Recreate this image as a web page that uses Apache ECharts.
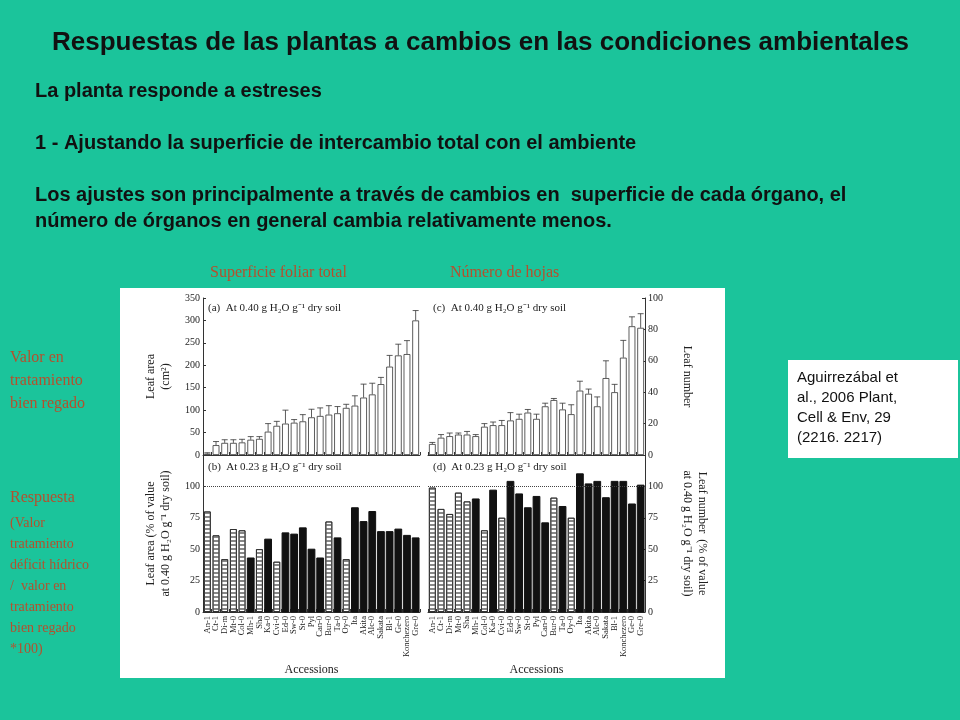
<!DOCTYPE html><html><head><meta charset="utf-8"><script src="https://cdn.jsdelivr.net/npm/echarts@6/dist/echarts.min.js"></script>
<style>body{margin:0;background:#1bc49b}#c{width:960px;height:720px}</style></head><body><div id="c"></div><script>
const catsAB=['An-1','Ct-1','Di-m','Mt-0','Col-0','Mh-1','Sha','Ka-0','Cvi-0','Ed-0','Sw-0','St-0','Pyl','Can-0','Bur-0','Ta-0','Oy-0','Ita','Akita','Alc-0','Sakata','Bl-1','Ge-0','Konchezero','Gre-0'];
const catsCD=['An-1','Ct-1','Di-m','Mt-0','Sha','Mh-1','Col-0','Ka-0','Cvi-0','Ed-0','Sw-0','St-0','Pyl','Can-0','Bur-0','Ta-0','Oy-0','Ita','Akita','Alc-0','Sakata','Bl-1','Konchezero','Ge-0','Gre-0'];
const leafArea=[3,22,27,27,28,34,36,52,65,70,72,75,84,87,90,93,105,110,128,135,158,197,222,225,300];
const leafAreaErr=[2,8,7,7,7,7,5,18,10,30,7,15,18,18,20,15,8,22,30,25,15,25,25,30,22];
const leafAreaPct=[80,61,42,66,65,43,50,58,40,63,62,67,50,43,72,59,42,83,72,80,64,64,66,61,59];
const leafNum=[7,11,12,13,13,12,18,19,19,22,23,27,23,31,35,29,26,41,39,31,49,40,62,82,81];
const leafNumErr=[1,2,2,1,2,1,2,2,3,5,3,2,3,2,1,4,6,6,3,6,11,5,11,6,9];
const leafNumPct=[99,82,78,95,88,90,65,97,75,104,94,83,92,71,91,84,75,110,102,104,91,104,104,86,101];
const hatched=['An-1','Ct-1','Di-m','Mt-0','Col-0','Sha','Cvi-0','Bur-0','Oy-0'];
const serif='Liberation Serif';
const decal={symbol:'rect',dashArrayX:[1,0],dashArrayY:[1.5,1.5],rotation:0,color:'#888',symbolSize:1};
function pctData(vals,cats){return vals.map((v,i)=>hatched.includes(cats[i])?{value:v,itemStyle:{color:'#fff',borderColor:'#222',borderWidth:0.8,decal:decal}}:{value:v,itemStyle:{color:'#111',borderColor:'#111'}});}
function errSeries(x,y,vals,errs){return {type:'custom',xAxisIndex:x,yAxisIndex:y,z:5,data:vals.map((v,i)=>[i,v,errs[i]]),renderItem:(p,api)=>{const i=api.value(0),v=api.value(1),e=api.value(2);const a=api.coord([i,v]),b=api.coord([i,v+e]);const w=3;return {type:'group',children:[{type:'line',shape:{x1:a[0],y1:a[1],x2:b[0],y2:b[1]},style:{stroke:'#333',lineWidth:0.8}},{type:'line',shape:{x1:b[0]-w,y1:b[1],x2:b[0]+w,y2:b[1]},style:{stroke:'#333',lineWidth:0.8}}]};}};}
const axLine={show:true,lineStyle:{color:'#333',width:1}};
const lab={fontFamily:serif,fontSize:10,color:'#222'};
const grids=[{left:203,top:298,width:217,height:157},{left:203,top:455,width:217,height:157},{left:428,top:298,width:217,height:157},{left:428,top:455,width:217,height:157}];
function xa(g,cats,show){return {type:'category',gridIndex:g,data:cats,axisLine:axLine,axisTick:{show:true,inside:true,alignWithLabel:false,length:3},axisLabel:{show:show,rotate:90,interval:0,fontFamily:serif,fontSize:8.5,color:'#222',margin:4},name:show?'Accessions':'',nameLocation:'middle',nameGap:52,nameTextStyle:{fontFamily:serif,fontSize:12,color:'#222'}};}
function ya(g,pos,max,interval,name,hide125,gap){return {type:'value',gridIndex:g,position:pos,min:0,max:max,interval:interval,axisLine:axLine,axisTick:{show:true,inside:true,length:3},splitLine:{show:false},axisLabel:Object.assign({},lab,{margin:3,formatter:v=>(hide125&&v>100)?'':v}),name:name,nameLocation:'middle',nameGap:gap,nameRotate:pos==='right'?-90:90,nameTextStyle:{fontFamily:serif,fontSize:12,color:'#222',lineHeight:15}};}
const ref100={silent:true,symbol:'none',label:{show:false},lineStyle:{color:'#444',type:'dotted',width:1},data:[{yAxis:100}]};
const bar={type:'bar',barCategoryGap:'22%'};
const opt={backgroundColor:'#1bc49b',animation:false,
grid:grids,
xAxis:[xa(0,catsAB,false),xa(1,catsAB,true),xa(2,catsCD,false),xa(3,catsCD,true)],
yAxis:[ya(0,'left',350,50,'Leaf area\n(cm²)',false,30),ya(1,'left',125,25,'Leaf area (% of value\nat 0.40 g H₂O g⁻¹ dry soil)',true,30),ya(2,'right',100,20,'Leaf number',false,35),ya(3,'right',125,25,'Leaf number  (% of value\nat 0.40 g H₂O g⁻¹ dry soil)',true,35)],
graphic:[
{type:'rect',shape:{x:120,y:288,width:605,height:390},style:{fill:'#fff'},z:-10},
{type:'text',left:52,top:30,style:{text:'Respuestas de las plantas a cambios en las condiciones ambientales',font:'bold 26px Liberation Sans',fill:'#111'}},
{type:'text',left:35,top:78,style:{text:'La planta responde a estreses\n\n1 - Ajustando la superficie de intercambio total con el ambiente\n\nLos ajustes son principalmente a través de cambios en  superficie de cada órgano, el\nnúmero de órganos en general cambia relativamente menos.',font:'bold 20px Liberation Sans',fill:'#111',lineHeight:26}},
{type:'text',left:210,top:265,style:{text:'Superficie foliar total',font:'16px Liberation Serif',fill:'#b5502d'}},
{type:'text',left:450,top:265,style:{text:'Número de hojas',font:'16px Liberation Serif',fill:'#b5502d'}},
{type:'text',left:10,top:346,style:{text:'Valor en\ntratamiento\nbien regado',font:'16px Liberation Serif',fill:'#b5502d',lineHeight:23}},
{type:'text',left:10,top:490,style:{text:'Respuesta',font:'16px Liberation Serif',fill:'#b5502d'}},
{type:'text',left:10,top:513,style:{text:'(Valor\ntratamiento\ndéficit hídrico\n/  valor en\ntratamiento\nbien regado\n*100)',font:'14px Liberation Serif',fill:'#b5502d',lineHeight:21}},
{type:'rect',shape:{x:788,y:360,width:170,height:98},style:{fill:'#fff'}},
{type:'text',left:797,top:368,style:{text:'Aguirrezábal et\nal., 2006 Plant,\nCell & Env, 29\n(2216. 2217)',font:'15px Liberation Sans',fill:'#111',lineHeight:20}},
{type:'text',left:208,top:303,style:{text:'(a)  At 0.40 g H₂O g⁻¹ dry soil',font:'11px Liberation Serif',fill:'#222'}},
{type:'text',left:208,top:462,style:{text:'(b)  At 0.23 g H₂O g⁻¹ dry soil',font:'11px Liberation Serif',fill:'#222'}},
{type:'text',left:433,top:303,style:{text:'(c)  At 0.40 g H₂O g⁻¹ dry soil',font:'11px Liberation Serif',fill:'#222'}},
{type:'text',left:433,top:462,style:{text:'(d)  At 0.23 g H₂O g⁻¹ dry soil',font:'11px Liberation Serif',fill:'#222'}}
],
series:[
Object.assign({},bar,{xAxisIndex:0,yAxisIndex:0,data:leafArea,itemStyle:{color:'#fff',borderColor:'#333',borderWidth:0.8}}),
errSeries(0,0,leafArea,leafAreaErr),
Object.assign({},bar,{xAxisIndex:1,yAxisIndex:1,data:pctData(leafAreaPct,catsAB),markLine:ref100}),
Object.assign({},bar,{xAxisIndex:2,yAxisIndex:2,data:leafNum,itemStyle:{color:'#fff',borderColor:'#333',borderWidth:0.8}}),
errSeries(2,2,leafNum,leafNumErr),
Object.assign({},bar,{xAxisIndex:3,yAxisIndex:3,data:pctData(leafNumPct,catsCD),markLine:ref100})
]};
echarts.init(document.getElementById('c')).setOption(opt);
</script></body></html>
